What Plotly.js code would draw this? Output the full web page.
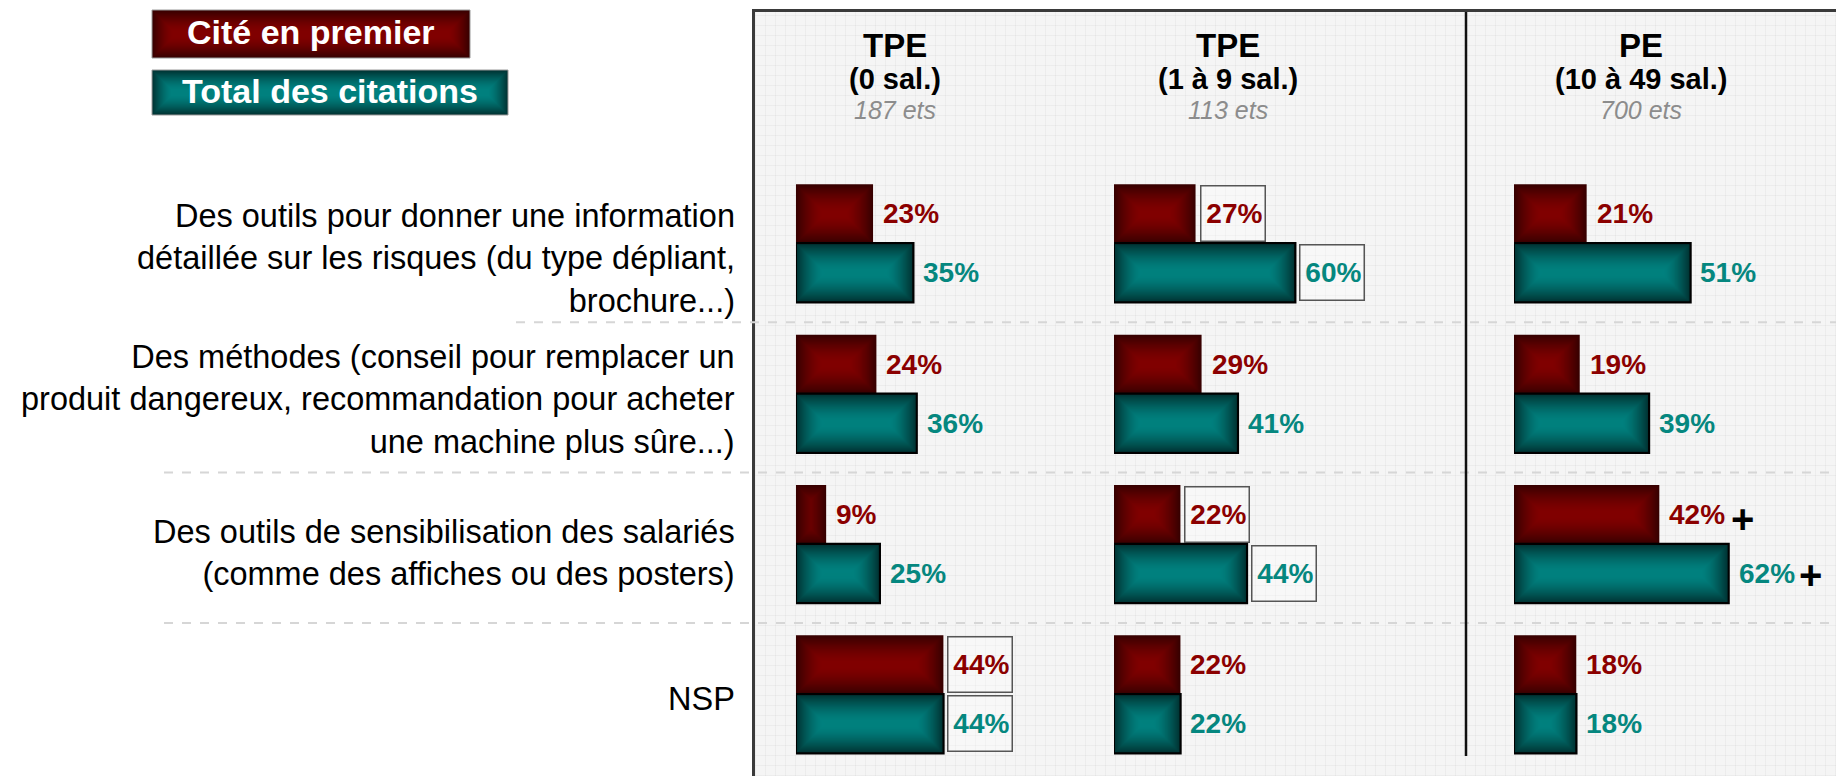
<!DOCTYPE html>
<html><head><meta charset="utf-8">
<script src="https://cdn.plot.ly/plotly-3.0.1.min.js"></script>
<style>
html,body{margin:0;padding:0;background:#fff;}
#wrap{position:relative;width:1836px;height:776px;overflow:hidden;background:#fff;}
#panel{position:absolute;left:752px;top:9px;width:1084px;height:767px;box-sizing:border-box;
 border-left:3px solid #3a3a3a;border-top:3px solid #3a3a3a;background-color:#f5f5f5;
 background-image:repeating-linear-gradient(0deg, rgba(0,0,0,0.035) 0 1px, transparent 1px 10px),
 repeating-linear-gradient(90deg, rgba(0,0,0,0.035) 0 1px, transparent 1px 10px);}
#chart{position:absolute;left:0;top:0;width:1836px;height:776px;}
</style></head>
<body><div id="wrap"><div id="panel"></div><div id="chart"></div></div>
<script>
// ---------------- DATA ----------------
const categories = [
  "Des outils pour donner une information<br>détaillée sur les risques (du type dépliant,<br>brochure...)",
  "Des méthodes (conseil pour remplacer un<br>produit dangereux, recommandation pour acheter<br>une machine plus sûre...)",
  "Des outils de sensibilisation des salariés<br>(comme des affiches ou des posters)",
  "NSP"
];
const groupNames = ["TPE", "TPE", "PE"];
const groupSizes = ["(0 sal.)", "(1 à 9 sal.)", "(10 à 49 sal.)"];
const groupBases = ["187 ets", "113 ets", "700 ets"];
const seriesNames = ["Cité en premier", "Total des citations"];

const premierTPE0  = [23, 24, 9, 44];
const totalTPE0    = [35, 36, 25, 44];
const premierTPE19 = [27, 29, 22, 22];
const totalTPE19   = [60, 41, 44, 22];
const premierPE    = [21, 19, 42, 18];
const totalPE      = [51, 39, 62, 18];

// significance flags: "box" = framed value, "plus" = significantly higher
const flagPremierTPE0  = ["", "", "", "box"];
const flagTotalTPE0    = ["", "", "", "box"];
const flagPremierTPE19 = ["box", "", "box", ""];
const flagTotalTPE19   = ["box", "", "box", ""];
const flagPremierPE    = ["", "", "plus", ""];
const flagTotalPE      = ["", "", "plus", ""];

// ---------------- LAYOUT CONSTANTS ----------------
const W = 1836, H = 776;
const FONT = "Liberation Sans, Arial, sans-serif";
const ROW0 = 243.3, ROWPX = 150.33;        // px of first row centre, px per row
const BARPX = 59;                          // bar thickness in px
const BAR_W = BARPX / ROWPX;
const colStart = [796, 1114, 1514];        // px where bars start
const colScale = [3.35, 3.02, 3.46];       // px per %
const colSpan = 300;
const headerX = [895, 1228, 1641];
const labelShift = [-15, -6, -9, -5];
const STEP = 1;

const columns = [
  {prem: premierTPE0, tot: totalTPE0, fp: flagPremierTPE0, ft: flagTotalTPE0},
  {prem: premierTPE19, tot: totalTPE19, fp: flagPremierTPE19, ft: flagTotalTPE19},
  {prem: premierPE, tot: totalPE, fp: flagPremierPE, ft: flagTotalPE}
];
const seriesEdge   = [[55, 0, 0], [0, 50, 50]];
const seriesCenter = [[128, 0, 0], [0, 128, 126]];
const seriesText   = ["#8b0000", "#05877f"];

function mix(a, b, f) {
  return "rgb(" + a.map((v, i) => Math.round(v + (b[i] - v) * f)).join(",") + ")";
}
function ease(u) { return 1 - Math.pow(1 - u, 1.5); }
const px2x = p => p / W, px2y = p => 1 - p / H;
const rowIdx = categories.map((_, i) => i);

const traces = [];
const annotations = [];
const shapes = [];

columns.forEach((col, c) => {
  const xa = c === 0 ? "x" : "x" + (c + 1);
  [0, 1].forEach(s => {
    const vals = s === 0 ? col.prem : col.tot;
    const half = BARPX / 2;
    for (let k = 0; ; k++) {
      const t = k * STEP;
      const wv = BAR_W - 2 * t / ROWPX;
      if (wv <= 0.003) break;
      const ix = t / colScale[c];
      const xs = vals.map(v => (v - 2 * ix) > 0.05 ? v - 2 * ix : null);
      if (xs.every(v => v === null)) break;
      const u = Math.min(1, t / (half - 3));
      traces.push({
        type: "bar", orientation: "h", name: seriesNames[s],
        x: xs, y: rowIdx, base: ix, width: wv,
        offset: (s === 0 ? -BAR_W : 0) + t / ROWPX,
        xaxis: xa, yaxis: "y", hoverinfo: "skip", showlegend: false,
        marker: {color: mix(seriesEdge[s], seriesCenter[s], ease(u)),
                 line: {width: (k === 0 && s === 1) ? 2.5 : 0, color: "#000"}}
      });
    }
    // value labels
    const flags = s === 0 ? col.fp : col.ft;
    vals.forEach((v, i) => {
      const yv = i + (s === 0 ? -BAR_W / 2 : BAR_W / 2);
      const boxed = flags[i] === "box";
      const a = {
        xref: xa, yref: "y", x: v, y: yv, xanchor: "left", yanchor: "middle",
        text: v + "%", showarrow: false,
        font: {family: FONT, size: 28, color: seriesText[s], weight: "bold"}
      };
      if (boxed) {
        Object.assign(a, {xshift: 4, width: 59, height: 50, align: "right",
          bordercolor: "#555", borderwidth: 1.5, borderpad: 2, bgcolor: "rgba(255,255,255,0.3)"});
      } else {
        Object.assign(a, {xshift: 8});
      }
      annotations.push(a);
      if (flags[i] === "plus") {
        annotations.push({xref: xa, yref: "y", x: v, y: yv, xanchor: "left", yanchor: "middle",
          xshift: s === 0 ? 70 : 68, yshift: s === 0 ? -5 : -2, text: "+", showarrow: false,
          font: {family: FONT, size: 40, color: "#000", weight: "bold"}});
      }
    });
  });
  // headers
  annotations.push({xref: "paper", yref: "paper", x: px2x(headerX[c]), y: px2y(45), xanchor: "center", yanchor: "middle",
    text: groupNames[c], showarrow: false, font: {family: FONT, size: 33, color: "#000", weight: "bold"}});
  annotations.push({xref: "paper", yref: "paper", x: px2x(headerX[c]), y: px2y(79), xanchor: "center", yanchor: "middle",
    text: groupSizes[c], showarrow: false, font: {family: FONT, size: 29, color: "#000", weight: "bold"}});
  annotations.push({xref: "paper", yref: "paper", x: px2x(headerX[c]), y: px2y(110), xanchor: "center", yanchor: "middle",
    text: groupBases[c], showarrow: false, font: {family: FONT, size: 25, color: "#8c8c8c", style: "italic"}});
});

// category labels
categories.forEach((cat, i) => {
  annotations.push({xref: "paper", yref: "y", x: px2x(737), y: i, xanchor: "right", yanchor: "middle",
    yshift: labelShift[i], align: "right", text: cat, showarrow: false,
    font: {family: FONT, size: 32.5, color: "#000"}});
});

// row separators (dashed)
[0.5, 1.5, 2.5].forEach((yv, j) => {
  shapes.push({type: "line", xref: "paper", yref: "y", x0: px2x(j === 0 ? 516 : 164), x1: 1, y0: yv + 0.025, y1: yv + 0.025,
    layer: "below", line: {color: "#d6d6d6", width: 2, dash: "dash"}});
});
// vertical separator
shapes.push({type: "line", xref: "paper", yref: "paper", x0: px2x(1466), x1: px2x(1466), y0: px2y(12), y1: px2y(756),
  line: {color: "#111", width: 2.5}});

// legend boxes with gradient
const legendBoxes = [[152, 10, 470, 58], [152, 70, 508, 115]];
legendBoxes.forEach((b, s) => {
  const half = (b[3] - b[1]) / 2;
  for (let k = 0; ; k++) {
    const t = k * STEP;
    if (b[3] - b[1] - 2 * t <= 0) break;
    const u = Math.min(1, t / (half - 3));
    shapes.push({type: "rect", xref: "paper", yref: "paper",
      x0: px2x(b[0] + t), x1: px2x(b[2] - t), y0: px2y(b[3] - t), y1: px2y(b[1] + t),
      fillcolor: mix(seriesEdge[s], seriesCenter[s], ease(u)),
      line: {width: k === 0 ? 1 : 0, color: "#9a9a9a"}});
  }
  annotations.push({xref: "paper", yref: "paper", x: px2x((b[0] + b[2]) / 2), y: px2y((b[1] + b[3]) / 2 - 2),
    xanchor: "center", yanchor: "middle", text: seriesNames[s], showarrow: false,
    font: {family: FONT, size: 34, color: "#fff", weight: "bold"}});
});

const yRange = [(H - ROW0) / ROWPX, -ROW0 / ROWPX];
const layout = {
  width: W, height: H, margin: {l: 0, r: 0, t: 0, b: 0, pad: 0},
  paper_bgcolor: "rgba(0,0,0,0)", plot_bgcolor: "rgba(0,0,0,0)",
  barmode: "overlay", showlegend: false,
  xaxis:  {domain: [px2x(colStart[0]), px2x(colStart[0] + colSpan)], range: [0, colSpan / colScale[0]], visible: false, anchor: "y", fixedrange: true},
  xaxis2: {domain: [px2x(colStart[1]), px2x(colStart[1] + colSpan)], range: [0, colSpan / colScale[1]], visible: false, anchor: "y", fixedrange: true},
  xaxis3: {domain: [px2x(colStart[2]), px2x(colStart[2] + colSpan)], range: [0, colSpan / colScale[2]], visible: false, anchor: "y", fixedrange: true},
  yaxis:  {domain: [0, 1], range: yRange, visible: false, anchor: "x", fixedrange: true},
  annotations: annotations, shapes: shapes
};
Plotly.newPlot("chart", traces, layout, {displayModeBar: false, staticPlot: true});
</script></body></html>
